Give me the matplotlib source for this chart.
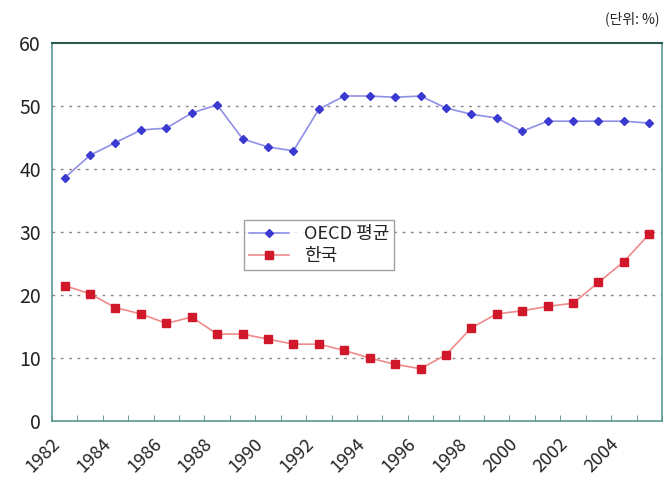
import numpy as np
import matplotlib
matplotlib.use("Agg")
import matplotlib.pyplot as plt
import matplotlib.transforms as mtransforms

plt.rcParams['font.family'] = ['Noto Sans CJK KR', 'DejaVu Sans']

# data
years = list(range(1982, 2006))
oecd = [38.6, 42.2, 44.2, 46.2, 46.5, 48.9, 50.2, 44.8, 43.5, 42.9, 49.5, 51.6,
        51.6, 51.4, 51.6, 49.7, 48.7, 48.1, 46.0, 47.6, 47.6, 47.6, 47.6, 47.3]
korea = [21.5, 20.2, 18.0, 17.0, 15.5, 16.5, 13.8, 13.8, 13.0, 12.2, 12.2, 11.2,
         10.0, 9.0, 8.3, 10.5, 14.8, 17.0, 17.5, 18.2, 18.7, 22.0, 25.3, 29.7]
labels = ['OECD 평균', '한국']

fig = plt.figure(figsize=(6.66, 4.87), dpi=100)
ax = fig.add_axes([0.078, 0.1355, 0.916, 0.776])

x = np.arange(len(years))
ax.plot(x, oecd, color='#8f8fe8', lw=1.2, marker='D', ms=4.5,
        mfc='#3a3ad0', mec='#3a3ad0', label=labels[0])
ax.plot(x, korea, color='#f08a8a', lw=1.2, marker='s', ms=6,
        mfc='#d0182a', mec='#d0182a', label=labels[1])

ax.set_xlim(-0.5, len(years) - 0.5)
ax.set_ylim(0, 60)
ax.set_yticks(range(0, 61, 10))
ax.tick_params(axis='y', length=0, labelsize=14, colors='#222222', pad=8)

# category ticks at boundaries, labels every 2 years
ax.set_xticks(np.arange(-0.5, len(years) + 0.5, 1), minor=True)
ax.set_xticks(x[::2])
ax.set_xticklabels([str(y) for y in years[::2]], rotation=45, ha='right',
                   rotation_mode='anchor', fontsize=13, color='#222222')
ax.tick_params(axis='x', which='major', length=0, pad=10)
ax.tick_params(axis='x', which='minor', length=4, direction='in', color='#5a8a80')
off = mtransforms.ScaledTranslation(-10 / 72, 0, fig.dpi_scale_trans)
for lab in ax.get_xticklabels():
    lab.set_transform(lab.get_transform() + off)

for yv in range(10, 60, 10):
    ax.axhline(yv, color='#888888', lw=1, ls=(0, (2, 4)), zorder=0)

for s in ['left', 'bottom', 'right']:
    ax.spines[s].set_color('#5a9a90')
    ax.spines[s].set_linewidth(1.2)
ax.spines['top'].set_color('#2a5a50')
ax.spines['top'].set_linestyle((0, (2, 1)))
ax.spines['top'].set_linewidth(1.5)

leg = ax.legend(loc='lower left', bbox_to_anchor=(0.30, 0.375), fontsize=13,
                frameon=True, fancybox=False, edgecolor='#888888',
                handlelength=2.2, borderpad=0.3, labelspacing=0.2)
for t in leg.get_texts():
    t.set_color('#222222')

fig.text(0.99, 0.962, '(단위: %)', ha='right', va='center', fontsize=10, color='#222222')

fig.savefig('out.png', dpi=100)
